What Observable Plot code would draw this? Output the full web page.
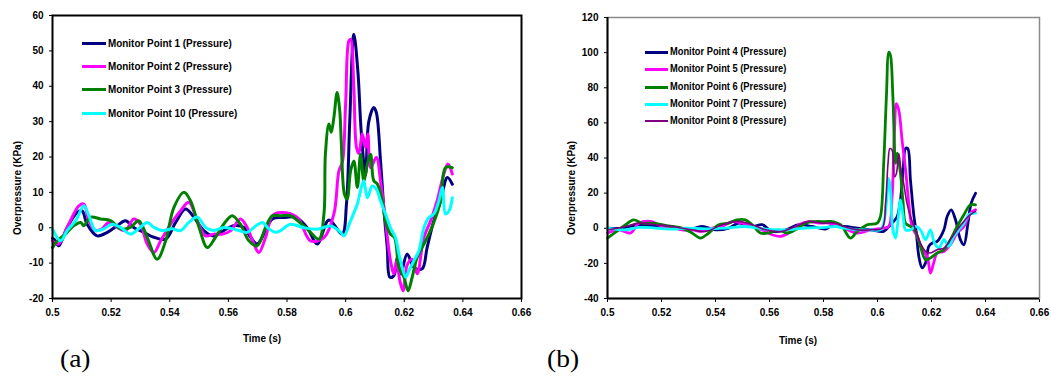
<!DOCTYPE html>
<html><head><meta charset="utf-8">
<script src="https://cdn.jsdelivr.net/npm/d3@7"></script>
<script src="https://cdn.jsdelivr.net/npm/@observablehq/plot@0.6"></script>
<style>
body{margin:0;background:#fff;}
#root{position:relative;width:1051px;height:376px;overflow:hidden;background:#fff;font-family:"Liberation Sans",Arial,sans-serif;}
#root svg{position:absolute;top:0;}
.t{position:absolute;font-weight:bold;white-space:nowrap;color:#000;}
.sw{position:absolute;}
.cap{position:absolute;font-family:"Liberation Serif","Times New Roman",serif;font-size:25px;line-height:1;color:#000;transform:translateY(-50%) scaleX(1.1);transform-origin:0 50%;}
</style></head><body><div id="root"></div>
<script>
// ---- Panel (a) data: [time (s), overpressure (KPa)] ----
const mp1 = [[0.5,-3],[0.5005,-3.2],[0.5021,-5.1],[0.505,0.1],[0.5084,4.3],[0.5101,4.8],[0.5118,1],[0.5152,-2.3],[0.5187,-1.3],[0.5221,0.6],[0.5249,2],[0.5277,0.1],[0.5312,-1.3],[0.5346,-2.7],[0.5386,-3.2],[0.542,1.5],[0.5454,5.3],[0.5482,3],[0.5516,-0.8],[0.555,-2.3],[0.5584,-0.8],[0.5619,0.6],[0.5653,0.1],[0.5676,-2.7],[0.5698,-4.6],[0.5727,-0.8],[0.575,2.5],[0.5789,2.9],[0.583,2.9],[0.5869,0],[0.5903,-4.6],[0.5943,2.2],[0.5988,-1.8],[0.6003,6.8],[0.6014,30],[0.6028,54.7],[0.6042,44],[0.6053,27.4],[0.6068,15],[0.6079,30],[0.6096,34],[0.6105,32.5],[0.6119,19],[0.613,5.7],[0.6142,-5.6],[0.6151,-14],[0.6165,-13.5],[0.6176,-8.4],[0.6188,-13],[0.621,-7.4],[0.6233,-11.2],[0.6261,-11.6],[0.6278,-5.6],[0.6301,2],[0.6324,7.6],[0.6347,14.2],[0.6364,12.3]];
const mp2 = [[0.5,-3.7],[0.5021,-4.6],[0.505,0.1],[0.509,6.2],[0.5107,6.7],[0.5124,2],[0.5147,-0.8],[0.5169,-0.3],[0.5192,1.5],[0.5221,0.1],[0.5249,-0.8],[0.5277,2.5],[0.53,1],[0.5323,-4.6],[0.5346,-7],[0.5369,-3.7],[0.5403,1],[0.5437,4.8],[0.5465,7.2],[0.5494,2],[0.5522,-2.3],[0.555,-1.8],[0.558,-1.8],[0.5608,-0.8],[0.5641,2.5],[0.5664,0.1],[0.5687,-4.6],[0.5704,-7],[0.5727,-2.7],[0.575,3.4],[0.5778,4.3],[0.5835,2.9],[0.588,-3.7],[0.5926,-2.8],[0.596,3.9],[0.5977,16],[0.5989,18.6],[0.6,35],[0.6011,52.8],[0.6017,53.3],[0.6028,39.6],[0.6037,22.7],[0.6045,21],[0.6057,26.5],[0.6068,22.7],[0.6076,26.5],[0.6085,17],[0.6105,19.9],[0.6119,13.3],[0.6136,2],[0.6153,-9.3],[0.6165,-13],[0.6174,-9.3],[0.6185,-15],[0.6196,-17.8],[0.621,-10.5],[0.6227,-8.9],[0.6244,-13],[0.6267,-2.7],[0.629,2],[0.6312,7.6],[0.6335,15.2],[0.6349,18],[0.6364,15.2]];
const mp3 = [[0.5,-5.6],[0.5017,-3.7],[0.5044,-1.8],[0.5073,0.6],[0.5096,1.5],[0.5107,0.6],[0.513,3],[0.5164,2.5],[0.5198,2],[0.5232,-0.3],[0.5266,0.1],[0.5294,2],[0.5323,-2.7],[0.5357,-8.9],[0.5386,-3.7],[0.5414,5.7],[0.5448,10],[0.5471,7.6],[0.55,0.1],[0.5528,-5.6],[0.5556,-2.7],[0.5584,1],[0.5613,3.4],[0.5641,1],[0.567,-3.7],[0.5698,-5.1],[0.5727,0.1],[0.575,3.4],[0.5778,3.4],[0.5812,3.4],[0.5869,-0.4],[0.5909,-3.2],[0.5926,3.9],[0.5931,20.8],[0.5943,29.3],[0.5951,27],[0.596,31.2],[0.5971,38.2],[0.598,33],[0.5985,24.6],[0.5996,9.5],[0.6005,8.1],[0.6017,16.1],[0.6028,18.9],[0.604,11.4],[0.6051,20.8],[0.6062,13.3],[0.6074,18],[0.6085,20.8],[0.6096,13.3],[0.6108,12.4],[0.6125,7.6],[0.6136,2],[0.6153,-1.8],[0.6167,-2.8],[0.6182,-11.2],[0.6199,-14],[0.6213,-17.8],[0.6227,-14],[0.6244,-8.4],[0.6267,-4.6],[0.6284,-1.8],[0.6307,2.9],[0.6324,7.6],[0.6341,17],[0.6364,17]];
const mp10 = [[0.5,-0.3],[0.5028,-3.7],[0.505,-0.8],[0.5079,2],[0.5107,6.2],[0.5124,3.4],[0.5147,-0.8],[0.5175,-0.3],[0.5204,1],[0.5232,0.1],[0.5266,-1.8],[0.5294,-0.3],[0.5323,1.5],[0.5346,0.1],[0.5374,-0.8],[0.5408,-0.3],[0.5437,-0.8],[0.5465,1.5],[0.5494,3],[0.5522,0.1],[0.555,-0.8],[0.5584,0.1],[0.5613,-0.3],[0.5636,-0.8],[0.5664,-1.3],[0.5687,0.1],[0.5716,1.5],[0.5738,-0.3],[0.5761,-1.3],[0.5778,-0.8],[0.5812,1],[0.5858,0],[0.5903,-0.4],[0.5949,0.5],[0.5983,-1.3],[0.5994,-2.3],[0.6017,2],[0.604,6.7],[0.6051,10.5],[0.6062,13.3],[0.6074,8.5],[0.6091,11.8],[0.6105,10.9],[0.6119,7.6],[0.6136,3.9],[0.6153,0],[0.617,-2.8],[0.6182,-7.5],[0.6193,-11.2],[0.6205,-14],[0.6216,-12.1],[0.6233,-9.3],[0.625,-6.5],[0.6267,0],[0.6284,2.9],[0.6301,3.9],[0.6318,7.6],[0.633,11.4],[0.6341,3.9],[0.6353,4.8],[0.6364,8.5]];

// ---- Panel (b) data ----
const mp4 = [[0.5,0.1],[0.5054,0.1],[0.5116,2],[0.5178,1],[0.524,0.1],[0.5301,-0.9],[0.535,1],[0.54,-0.9],[0.5449,0.1],[0.5486,2.9],[0.5536,1],[0.5573,2],[0.561,-1.8],[0.5659,-0.9],[0.5709,2],[0.5758,1],[0.5807,-0.5],[0.5826,1],[0.5875,1],[0.5925,0.1],[0.5975,-0.9],[0.6023,-1.8],[0.6042,1],[0.606,3.9],[0.6073,6.7],[0.6085,16.1],[0.6095,33.2],[0.6104,45.4],[0.6112,45.4],[0.6122,27.5],[0.6135,6.7],[0.6144,-2.7],[0.6153,-15.9],[0.6165,-22.5],[0.6178,-19.7],[0.619,-10.3],[0.6203,-8.4],[0.6221,-7.5],[0.6246,-0.9],[0.6258,6.7],[0.6273,10.5],[0.6289,4.8],[0.6307,-6.5],[0.632,-9.4],[0.6335,2.9],[0.6347,14.3],[0.6363,19.9]];
const mp5 = [[0.5,-2.7],[0.5042,-0.9],[0.5085,-2.7],[0.5116,2.9],[0.5165,3.8],[0.5202,1],[0.524,1],[0.5276,-0.9],[0.5313,-0.9],[0.535,-1.8],[0.5388,0.1],[0.5425,1],[0.5462,3.8],[0.5499,2.9],[0.5536,1],[0.5573,-0.9],[0.561,-3.7],[0.5641,-4.6],[0.5671,-2.7],[0.5709,2],[0.5746,3.8],[0.5783,2.9],[0.582,2.9],[0.5875,0.1],[0.5925,-2.7],[0.5974,-0.9],[0.6023,0.1],[0.6042,1],[0.6054,18],[0.6063,55.9],[0.607,71],[0.6079,67.2],[0.6091,50.2],[0.6104,33.2],[0.6116,14.3],[0.6128,1],[0.6147,-4.7],[0.6165,-12.2],[0.6184,-16],[0.6196,-25.5],[0.6208,-19.8],[0.6221,-14.1],[0.6246,-13.2],[0.627,-9.4],[0.6295,-2.7],[0.632,1],[0.6344,8.6],[0.6363,10.5]];
const mp6 = [[0.5,-5.6],[0.5042,-0.9],[0.5067,2],[0.5097,4.8],[0.5128,2.9],[0.5165,2.9],[0.5202,2],[0.524,1],[0.5276,0.1],[0.5313,-2.7],[0.5344,-5.6],[0.5375,-2.7],[0.5412,2],[0.5449,2.9],[0.548,4.8],[0.5511,4.8],[0.5536,2],[0.5566,-2.7],[0.5597,-2.7],[0.5634,-0.9],[0.5665,-2.7],[0.5696,-0.9],[0.5733,2.9],[0.577,3.8],[0.5807,3.8],[0.5826,3.9],[0.5863,2],[0.59,-5.6],[0.5925,-1.8],[0.5962,2],[0.5999,2.9],[0.6011,6.7],[0.6023,37],[0.6033,74.8],[0.6042,100.3],[0.6048,98.4],[0.6057,74.8],[0.6067,37],[0.6073,42.7],[0.6085,31.3],[0.6095,14.3],[0.6104,2.9],[0.6122,1],[0.6141,-1.8],[0.6159,-10.3],[0.6178,-17.9],[0.6196,-16.9],[0.6221,-14.1],[0.6246,-12.2],[0.627,-6.5],[0.6295,1],[0.632,7.7],[0.6344,13.3],[0.6363,13.3]];
const mp7 = [[0.5,0.1],[0.5067,-0.9],[0.5116,0.5],[0.5178,0.1],[0.524,-0.5],[0.529,0.1],[0.5363,-0.3],[0.5437,0.1],[0.5511,1],[0.5585,-0.5],[0.5659,-0.9],[0.5733,0.1],[0.5807,0.5],[0.5844,1],[0.5875,0.1],[0.5925,-0.9],[0.5974,-0.9],[0.601,-0.9],[0.6023,2.9],[0.6033,14.3],[0.6042,28.4],[0.6048,21.7],[0.6057,-0.9],[0.6067,-5.6],[0.6075,2.9],[0.6085,16.1],[0.6095,6.7],[0.6104,-0.9],[0.6122,-0.9],[0.6141,1],[0.6159,-0.9],[0.6178,-6.5],[0.6196,-0.9],[0.6211,-8.4],[0.6227,-11.3],[0.6246,-6.5],[0.6264,-10.3],[0.6283,-4.6],[0.6301,-0.9],[0.632,2.9],[0.6338,7.7],[0.6363,8.6]];
const mp8 = [[0.5005,-0.9],[0.5067,1],[0.5116,2.9],[0.5178,2],[0.524,1],[0.5313,-0.9],[0.5363,-1.8],[0.5425,2],[0.5486,3.9],[0.5536,2],[0.5585,-0.9],[0.5647,-1.8],[0.5696,1],[0.5746,3.9],[0.5795,2.9],[0.5844,2.9],[0.5875,1],[0.5925,-0.9],[0.5974,-0.9],[0.6017,0.1],[0.603,14.3],[0.6039,37],[0.6046,45.4],[0.6054,44.5],[0.6063,29.3],[0.607,31.2],[0.6079,42.6],[0.6087,33.2],[0.6097,25.6],[0.6109,14.3],[0.6122,6.7],[0.6141,-0.9],[0.6159,-8.4],[0.6178,-13.2],[0.6196,-14.1],[0.6221,-12.2],[0.6246,-11.3],[0.627,-6.5],[0.6295,-0.9],[0.632,3.9],[0.6344,7.7],[0.6363,9.6]];

// ---- names, colours, ticks ----
const namesA = ["Monitor Point 1 (Pressure)","Monitor Point 2 (Pressure)","Monitor Point 3 (Pressure)","Monitor Point 10 (Pressure)"];
const namesB = ["Monitor Point 4 (Pressure)","Monitor Point 5 (Pressure)","Monitor Point 6 (Pressure)","Monitor Point 7 (Pressure)","Monitor Point 8 (Pressure)"];
const colorsA = ["#000080","#ff00ff","#008000","#00ffff"];
const colorsB = ["#000080","#ff00ff","#008000","#00ffff","#800080"];
const xTicks = [0.5,0.52,0.54,0.56,0.58,0.6,0.62,0.64,0.66];
const yTicksA = [-20,-10,0,10,20,30,40,50,60];
const yTicksB = [-40,-20,0,20,40,60,80,100,120];
const xTitle = "Time (s)";
const yTitle = "Overpressure (KPa)";

const root = document.getElementById("root");
const toRows = (arr) => arr.map(([t,v]) => ({t, v}));
const font = {fontFamily:"'Liberation Sans', Arial, sans-serif", fontSize:"10px", fontWeight:"bold", background:"transparent", overflow:"visible", color:"#000"};

// Panel (a)
const seriesA = [mp1, mp2, mp3, mp10];
const plotA = Plot.plot({
  width: 530, height: 376,
  marginLeft: 52, marginRight: 9, marginTop: 15, marginBottom: 78,
  style: font,
  x: {domain:[0.5,0.66], ticks: xTicks, tickFormat: d => String(d), tickSize: 4, tickPadding: 6, label: null},
  y: {domain:[-20,60], ticks: yTicksA, tickFormat: d => String(d), tickSize: 3, tickPadding: 6, label: null},
  marks: [
    ...seriesA.map((s,i) => Plot.line(toRows(s), {x:"t", y:"v", stroke: colorsA[i], strokeWidth: 3, curve: "catmull-rom"})),
    Plot.frame({stroke:"#000", strokeWidth: 2})
  ]
});
plotA.style.left = "0px";
root.appendChild(plotA);

// Panel (b)
const seriesB = [mp4, mp5, mp6, mp7, mp8];
const widthsB = [2.8, 2.8, 2.8, 2.8, 1.6];
const plotB = Plot.plot({
  width: 511, height: 376,
  marginLeft: 67, marginRight: 12, marginTop: 17, marginBottom: 78,
  style: font,
  x: {domain:[0.5,0.66], ticks: xTicks, tickFormat: d => String(d), tickSize: 4, tickPadding: 6, label: null},
  y: {domain:[-40,120], ticks: yTicksB, tickFormat: d => String(d), tickSize: 3, tickPadding: 6, label: null},
  marks: [
    ...seriesB.map((s,i) => Plot.line(toRows(s), {x:"t", y:"v", stroke: colorsB[i], strokeWidth: widthsB[i], curve: "catmull-rom"})),
    Plot.frame({stroke:"#8a8a8a", strokeWidth: 1.5}),
    Plot.ruleX([0.5], {stroke:"#000", strokeWidth: 2}),
    Plot.ruleY([-40], {stroke:"#000", strokeWidth: 2})
  ]
});
plotB.style.left = "540px";
root.appendChild(plotB);

// HTML helpers
function text(str, x, y, size, opts = {}) {
  const d = document.createElement("div");
  d.className = "t";
  d.textContent = str;
  d.style.left = x + "px";
  d.style.top = y + "px";
  d.style.fontSize = size + "px";
  d.style.lineHeight = "1";
  d.style.transformOrigin = "0 0";
  d.style.transform = opts.transform || "translateY(-50%)";
  root.appendChild(d);
  return d;
}
function swatch(x1, x2, y, color, w) {
  const d = document.createElement("div");
  d.className = "sw";
  d.style.left = x1 + "px";
  d.style.width = (x2 - x1) + "px";
  d.style.top = (y - w/2) + "px";
  d.style.height = w + "px";
  d.style.background = color;
  root.appendChild(d);
}

// Legend (a)
const rowsA = [43, 66, 89, 113];
namesA.forEach((n,i) => {
  swatch(82, 106, rowsA[i], colorsA[i], 3);
  text(n, 108, rowsA[i], 11, {transform: "translateY(-50%) scaleX(0.9)"});
});
// Legend (b)
const rowsB = [52, 69, 87, 104, 121];
namesB.forEach((n,i) => {
  swatch(645, 668, rowsB[i], colorsB[i], i === 4 ? 2 : 3);
  text(n, 670, rowsB[i], 10, {transform: "translateY(-50%) scaleX(0.93)"});
});

// Axis titles
function centered(str, cx, cy, size, rot) {
  const d = document.createElement("div");
  d.className = "t";
  d.textContent = str;
  d.style.left = cx + "px";
  d.style.top = cy + "px";
  d.style.fontSize = size + "px";
  d.style.lineHeight = "1";
  d.style.transform = "translate(-50%,-50%)" + (rot ? " rotate(-90deg)" : "");
  root.appendChild(d);
}
centered(xTitle, 262, 339, 10, false);
centered(yTitle, 18, 188, 10, true);
centered(xTitle, 798, 341, 10, false);
centered(yTitle, 572, 188, 10, true);

// Panel captions
const capA = document.createElement("div"); capA.className = "cap"; capA.textContent = "(a)";
capA.style.left = "60px"; capA.style.top = "358px"; root.appendChild(capA);
const capB = document.createElement("div"); capB.className = "cap"; capB.textContent = "(b)";
capB.style.left = "547px"; capB.style.top = "358px"; root.appendChild(capB);
</script></body></html>
